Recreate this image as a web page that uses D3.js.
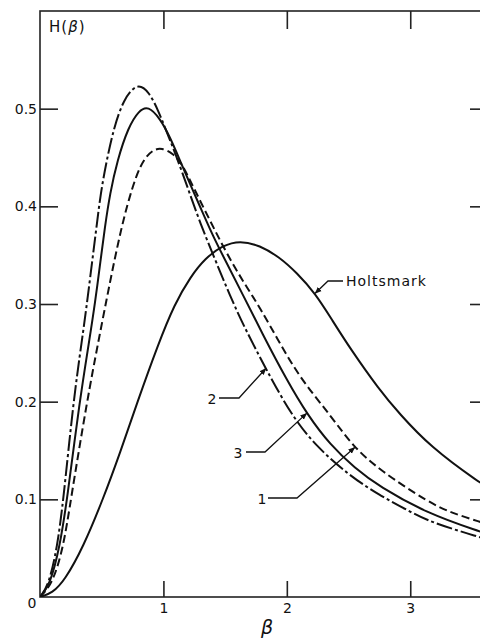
<!DOCTYPE html>
<html>
<head>
<meta charset="utf-8">
<script src="https://cdn.jsdelivr.net/npm/d3@7"></script>
<style>
  html, body { margin: 0; padding: 0; background: #fff; }
  svg { display: block; }
  text { font-family: "DejaVu Sans", sans-serif; fill: #111; }
</style>
</head>
<body>
<div id="chart"></div>
<script>
// values: beta and H(beta) for each curve
const betaHoltsmark = [0, 0.10, 0.20, 0.35, 0.51, 0.65, 0.79, 0.955, 1.09, 1.22, 1.34, 1.48, 1.62, 1.78, 1.94, 2.08, 2.23, 2.37, 2.51, 2.75, 2.91, 3.16, 3.56, 3.7];
const hHoltsmark    = [0, 0.004, 0.017, 0.051, 0.10, 0.148, 0.20, 0.258, 0.30, 0.328, 0.347, 0.360, 0.365, 0.360, 0.348, 0.332, 0.311, 0.283, 0.255, 0.212, 0.188, 0.154, 0.117, 0.107];

// curve 1 (dashed)
const beta1 = [0, 0.10, 0.19, 0.25, 0.38, 0.475, 0.54, 0.60, 0.66, 0.715, 0.783, 0.85, 0.92, 0.985, 1.08, 1.147, 1.215, 1.296, 1.403, 1.512, 1.65, 1.78, 1.95, 2.12, 2.36, 2.53, 2.75, 3.16, 3.34, 3.56, 3.7];
const h1    = [0, 0.013, 0.051, 0.10, 0.20, 0.263, 0.305, 0.343, 0.378, 0.405, 0.433, 0.450, 0.458, 0.460, 0.454, 0.444, 0.427, 0.406, 0.379, 0.352, 0.322, 0.297, 0.258, 0.222, 0.185, 0.155, 0.130, 0.096, 0.086, 0.077, 0.072];

// curve 2 (dash-dot)
const beta2 = [0, 0.07, 0.14, 0.19, 0.27, 0.34, 0.38, 0.424, 0.458, 0.491, 0.54, 0.60, 0.675, 0.788, 0.885, 0.958, 1.012, 1.10, 1.20, 1.30, 1.42, 1.60, 1.78, 1.88, 2.05, 2.24, 2.50, 2.75, 3.02, 3.16, 3.56, 3.7];
const h2    = [0, 0.012, 0.051, 0.10, 0.20, 0.263, 0.30, 0.345, 0.379, 0.413, 0.447, 0.481, 0.509, 0.527, 0.517, 0.498, 0.481, 0.453, 0.418, 0.382, 0.345, 0.29, 0.246, 0.222, 0.184, 0.154, 0.125, 0.104, 0.086, 0.077, 0.061, 0.057];

// curve 3 (solid)
const beta3 = [0, 0.08, 0.16, 0.22, 0.32, 0.40, 0.445, 0.491, 0.526, 0.567, 0.626, 0.715, 0.80, 0.877, 0.972, 1.053, 1.134, 1.215, 1.296, 1.40, 1.50, 1.65, 1.80, 2.00, 2.17, 2.35, 2.55, 2.75, 3.13, 3.56, 3.7];
const h3    = [0, 0.012, 0.051, 0.10, 0.20, 0.263, 0.30, 0.345, 0.379, 0.413, 0.447, 0.481, 0.498, 0.503, 0.490, 0.471, 0.447, 0.423, 0.40, 0.37, 0.345, 0.308, 0.270, 0.222, 0.186, 0.156, 0.132, 0.113, 0.086, 0.067, 0.062];

const yTicks = [0.1, 0.2, 0.3, 0.4, 0.5];
const xTicks = [1, 2, 3];

const width = 480, height = 639;
const margin = { left: 40, top: 11, right: 488, bottom: 597 };

const x = d3.scaleLinear().domain([0, 3.63]).range([margin.left, margin.right]);
const y = d3.scaleLinear().domain([0, 0.6]).range([margin.bottom, margin.top]);

const svg = d3.select("#chart").append("svg")
    .attr("width", width)
    .attr("height", height);

const defs = svg.append("defs");
defs.append("clipPath").attr("id", "plot")
  .append("rect")
    .attr("x", margin.left).attr("y", margin.top)
    .attr("width", margin.right - margin.left)
    .attr("height", margin.bottom - margin.top);

defs.append("marker")
    .attr("id", "arrow")
    .attr("viewBox", "0 0 10 10")
    .attr("refX", 9).attr("refY", 5)
    .attr("markerWidth", 7).attr("markerHeight", 7)
    .attr("markerUnits", "userSpaceOnUse")
    .attr("orient", "auto")
  .append("path")
    .attr("d", "M0,1 L10,5 L0,9 Z")
    .attr("fill", "#111");

// frame
svg.append("rect")
    .attr("x", margin.left).attr("y", margin.top)
    .attr("width", margin.right - margin.left)
    .attr("height", margin.bottom - margin.top)
    .attr("fill", "none")
    .attr("stroke", "#222")
    .attr("stroke-width", 1.6);

// axes, ticks pointing inward
const styleAxis = g => {
    g.select(".domain").remove();
    g.selectAll(".tick line").attr("stroke", "#222").attr("stroke-width", 1.6);
    g.selectAll(".tick text")
        .style("font-family", "DejaVu Sans, sans-serif")
        .style("font-size", "14px")
        .attr("fill", "#111");
};

svg.append("g")
    .attr("transform", `translate(${margin.left},0)`)
    .call(d3.axisLeft(y).tickValues(yTicks).tickSize(-18).tickPadding(3).tickFormat(d3.format(".1f")))
    .call(styleAxis);

svg.append("g")
    .attr("transform", `translate(${margin.right},0)`)
    .call(d3.axisRight(y).tickValues(yTicks).tickSize(-18).tickFormat(""))
    .call(styleAxis);

svg.append("g")
    .attr("transform", `translate(0,${margin.bottom})`)
    .call(d3.axisBottom(x).tickValues(xTicks).tickSize(-16).tickPadding(6).tickFormat(d3.format("d")))
    .call(styleAxis);

svg.append("g")
    .attr("transform", `translate(0,${margin.top})`)
    .call(d3.axisTop(x).tickValues(xTicks).tickSize(-18).tickFormat(""))
    .call(styleAxis);

svg.append("text")
    .attr("x", margin.left - 8).attr("y", margin.bottom + 7)
    .attr("text-anchor", "middle")
    .attr("dominant-baseline", "middle")
    .style("font-size", "14px")
    .text("0");

// axis titles
const yTitle = svg.append("text")
    .attr("x", 49).attr("y", 32)
    .style("font-size", "15px")
    .style("letter-spacing", "1px");
yTitle.append("tspan").text("H(");
yTitle.append("tspan").style("font-style", "italic").text("β");
yTitle.append("tspan").text(")");

svg.append("text")
    .attr("x", x(1.84)).attr("y", 634)
    .attr("text-anchor", "middle")
    .style("font-size", "19px")
    .style("font-style", "italic")
    .text("β");

// curves
const line = d3.line()
    .x(d => x(d[0]))
    .y(d => y(d[1]))
    .curve(d3.curveBasis);

const series = [
    { beta: betaHoltsmark, h: hHoltsmark, dash: null },
    { beta: beta1, h: h1, dash: "8,4" },
    { beta: beta2, h: h2, dash: "16,3,3,3" },
    { beta: beta3, h: h3, dash: null }
];

const curves = svg.append("g").attr("clip-path", "url(#plot)");
series.forEach(s => {
    curves.append("path")
        .datum(d3.zip(s.beta, s.h))
        .attr("d", line)
        .attr("fill", "none")
        .attr("stroke", "#111")
        .attr("stroke-width", 2)
        .attr("stroke-dasharray", s.dash);
});

// curve labels with leader arrows (text position, elbow, arrow tip on curve)
const labels = [
    { text: "Holtsmark", tx: 346, ty: 286, pts: [[343, 281], [328, 281]], tip: [2.23, 0.311], anchor: "start", ls: "1px" },
    { text: "2", tx: 212, ty: 404, pts: [[219, 398], [239, 398]], tip: [1.83, 0.234], anchor: "middle", ls: "0px" },
    { text: "3", tx: 238, ty: 458, pts: [[246, 452], [265, 452]], tip: [2.16, 0.188], anchor: "middle", ls: "0px" },
    { text: "1", tx: 262, ty: 504, pts: [[268, 498], [297, 498]], tip: [2.55, 0.153], anchor: "middle", ls: "0px" }
];

labels.forEach(l => {
    svg.append("text")
        .attr("x", l.tx).attr("y", l.ty)
        .attr("text-anchor", l.anchor)
        .style("font-size", "14px")
        .style("letter-spacing", l.ls)
        .text(l.text);
    const pts = l.pts.concat([[x(l.tip[0]), y(l.tip[1])]]);
    svg.append("path")
        .attr("d", d3.line()(pts))
        .attr("fill", "none")
        .attr("stroke", "#111")
        .attr("stroke-width", 1.3)
        .attr("marker-end", "url(#arrow)");
});
</script>
</body>
</html>
